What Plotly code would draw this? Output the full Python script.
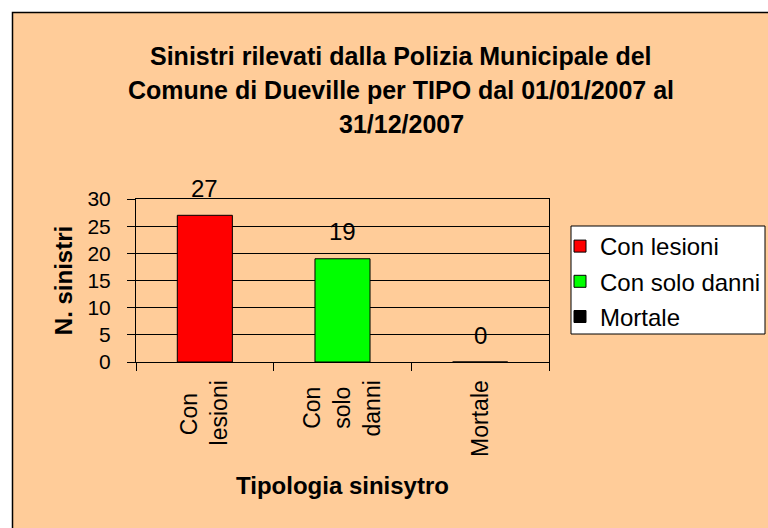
import plotly.graph_objects as go

categories = ["Con lesioni", "Con solo danni", "Mortale"]
# display form of the category labels (one word per line, lines centred)
tick_labels = ["Con\u00a0\u00a0<br>lesioni", "Con\u00a0<br>solo\u00a0<br>danni", "Mortale"]
series_names = ["Con lesioni", "Con solo danni", "Mortale"]
values = [27, 19, 0]
colors = ["#FF0000", "#00FF00", "#000000"]
y_ticks = [0, 5, 10, 15, 20, 25, 30]
title_lines = [
    "Sinistri rilevati dalla Polizia Municipale del",
    "Comune di Dueville per TIPO dal 01/01/2007 al",
    "31/12/2007",
]
x_title = "Tipologia sinisytro"
y_title = "N. sinistri"

FONT = "Liberation Sans, Arial, sans-serif"
W, H = 768, 528
# plot area in px
L, R, T, B = 136, 549, 199, 362
pw, ph = R - L, B - T


def px_x(p):
    return (p - L) / pw


def px_y(p):
    return (B - p) / ph


fig = go.Figure()
for cat, name, v, c in zip(categories, series_names, values, colors):
    fig.add_trace(go.Bar(
        x=[cat], y=[v], name=name, marker_color=c,
        marker_line_color="black", marker_line_width=1,
        legendgroup=name, width=0.4,
    ))

annotations = []
for cat, v in zip(categories, values):
    annotations.append(dict(
        x=cat, y=v, xref="x", yref="y", text=str(v), showarrow=False,
        yanchor="middle", yshift=27, font=dict(family=FONT, size=24, color="black"),
    ))

for line, py in zip(title_lines, [56, 90, 124]):
    annotations.append(dict(
        x=px_x(401), y=px_y(py), xref="paper", yref="paper", text="<b>%s</b>" % line,
        showarrow=False, xanchor="center", yanchor="middle",
        font=dict(family=FONT, size=25, color="black"),
    ))

shapes = [
    dict(type="rect", xref="paper", yref="paper", layer="below",
         x0=px_x(12.5), x1=px_x(900), y0=px_y(700), y1=px_y(12.5),
         fillcolor="#FFCC99", line=dict(color="black", width=1.5)),
    dict(type="rect", xref="paper", yref="paper", layer="below",
         x0=px_x(571), x1=px_x(765), y0=px_y(334), y1=px_y(226),
         fillcolor="white", line=dict(color="black", width=1)),
]

fig.update_layout(
    width=W, height=H,
    margin=dict(l=L, r=W - R, t=T, b=H - B, pad=0),
    paper_bgcolor="white", plot_bgcolor="white",
    font=dict(family=FONT, size=20, color="black"),
    showlegend=True,
    legend=dict(
        xref="container", yref="container",
        x=560 / W, y=1 - 224 / H, xanchor="left", yanchor="top",
        bgcolor="rgba(0,0,0,0)", borderwidth=0,
        font=dict(family=FONT, size=24, color="black"),
        traceorder="grouped", tracegroupgap=1,
    ),
    annotations=annotations,
    shapes=shapes,
    bargap=0.6,
)

fig.update_xaxes(
    type="category", tickangle=-90, tickson="boundaries", ticks="outside",
    tickmode="array", tickvals=categories, ticktext=tick_labels,
    ticklen=8, tickcolor="black", showline=True, linecolor="black", linewidth=1,
    mirror=True, showgrid=False, ticklabelstandoff=8,
    tickfont=dict(family=FONT, size=23, color="black"),
    title=dict(text="<b>%s</b>" % x_title, font=dict(family=FONT, size=24, color="black"), standoff=21),
    automargin=False,
)
fig.update_yaxes(
    range=[0, 30], tickvals=y_ticks, ticks="outside", ticklen=8, tickcolor="black",
    showline=True, linecolor="black", linewidth=1, mirror=True,
    showgrid=True, gridcolor="black", gridwidth=1, zeroline=False,
    tickfont=dict(family=FONT, size=21, color="black"), ticklabelstandoff=12,
    title=dict(text="<b>%s</b>" % y_title, font=dict(family=FONT, size=24, color="black"), standoff=8),
    automargin=False,
)

fig.write_html(
    "out.html",
    config={"displayModeBar": False},
    post_script="document.body.style.margin='0';document.body.style.overflow='hidden';",
)
